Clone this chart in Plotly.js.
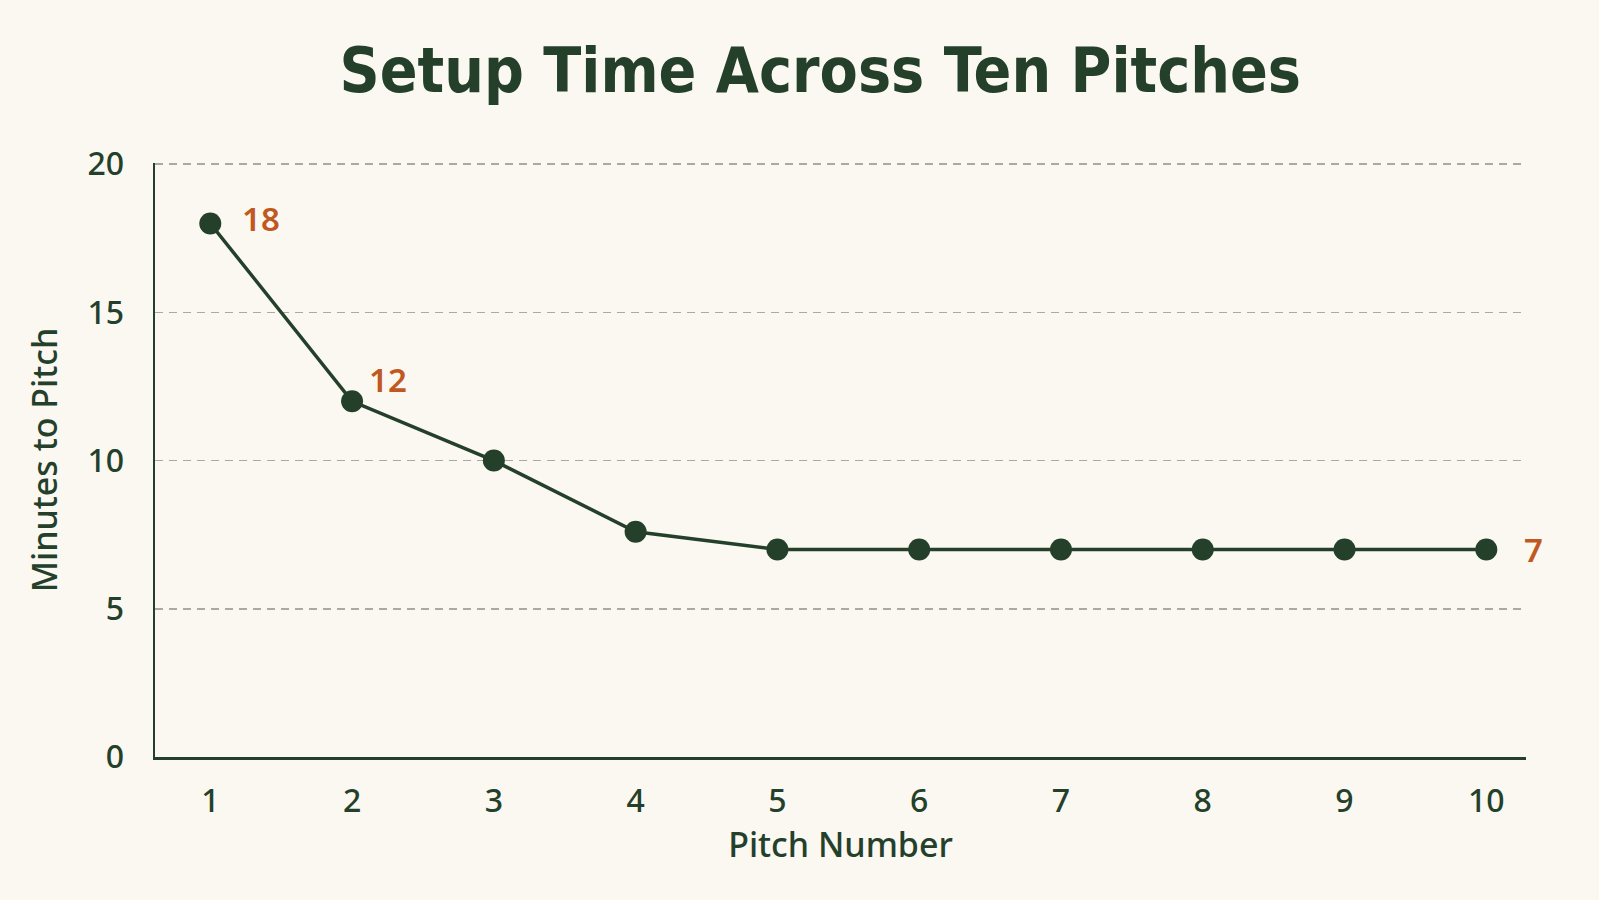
<!DOCTYPE html>
<html>
<head>
<meta charset="utf-8">
<script src="https://cdn.plot.ly/plotly-3.0.1.min.js"></script>
<style>
  html, body { margin: 0; padding: 0; background: #faf8f1; }
  #chart { width: 1599px; height: 900px; }
</style>
</head>
<body>
<div id="chart"></div>
<script>
// pitch number vs minutes to pitch
var pitches = [1, 2, 3, 4, 5, 6, 7, 8, 9, 10];
var minutes = [18, 12, 10, 7.6, 7, 7, 7, 7, 7, 7];
var pointLabels = ['18', '12', '', '', '', '', '', '', '', '7'];
var yTicks = [0, 5, 10, 15, 20];

var green = '#24402b';
var orange = '#c0581f';

// label offsets (px) per labelled point
var shifts = { 0: [30, 5], 1: [15, 22], 9: [36, 0] };

var trace = {
  x: pitches,
  y: minutes,
  type: 'scatter',
  mode: 'lines+markers',
  line: { color: green, width: 3.5 },
  marker: { color: green, size: 22 },
  cliponaxis: false,
  hoverinfo: 'x+y'
};

var annotations = [];
pointLabels.forEach(function (t, i) {
  if (!t) return;
  annotations.push({
    x: pitches[i],
    y: minutes[i],
    xref: 'x',
    yref: 'y',
    text: t,
    showarrow: false,
    xanchor: 'left',
    yanchor: 'middle',
    xshift: shifts[i][0],
    yshift: shifts[i][1],
    font: { family: 'Noto Sans', size: 33, color: orange, weight: 600 }
  });
});

var tickFont = { family: 'Noto Sans', size: 32, color: green, weight: 500 };
var axTitleFont = { family: 'Noto Sans', size: 34, color: green, weight: 500 };

var layout = {
  width: 1599,
  height: 900,
  paper_bgcolor: '#faf8f1',
  plot_bgcolor: '#faf8f1',
  margin: { l: 155, r: 73, t: 163, b: 143 },
  showlegend: false,
  annotations: annotations,
  title: {
    text: '<b>Setup Time Across Ten Pitches</b>',
    font: { family: 'DejaVu Sans Condensed, DejaVu Sans, sans-serif', size: 62, color: green },
    xref: 'container',
    yref: 'container',
    x: 0.513,
    y: 0.922,
    xanchor: 'center',
    yanchor: 'middle'
  },
  xaxis: {
    range: [0.61, 10.28],
    tickvals: pitches,
    showgrid: false,
    zeroline: false,
    showline: true,
    linecolor: green,
    linewidth: 2.5,
    ticks: '',
    ticklabelstandoff: 14,
    tickfont: tickFont,
    title: { text: 'Pitch Number', font: axTitleFont, standoff: 14 }
  },
  yaxis: {
    range: [0, 20.04],
    tickvals: yTicks,
    showgrid: true,
    gridcolor: '#aaaaa4',
    gridwidth: 1.5,
    griddash: '8px,6px',
    zeroline: false,
    showline: true,
    linecolor: green,
    linewidth: 2.5,
    ticks: '',
    ticklabelstandoff: 22,
    tickfont: tickFont,
    title: { text: 'Minutes to Pitch', font: axTitleFont, standoff: 20 }
  }
};

Plotly.newPlot('chart', [trace], layout, { displayModeBar: false, staticPlot: true });
</script>
</body>
</html>
